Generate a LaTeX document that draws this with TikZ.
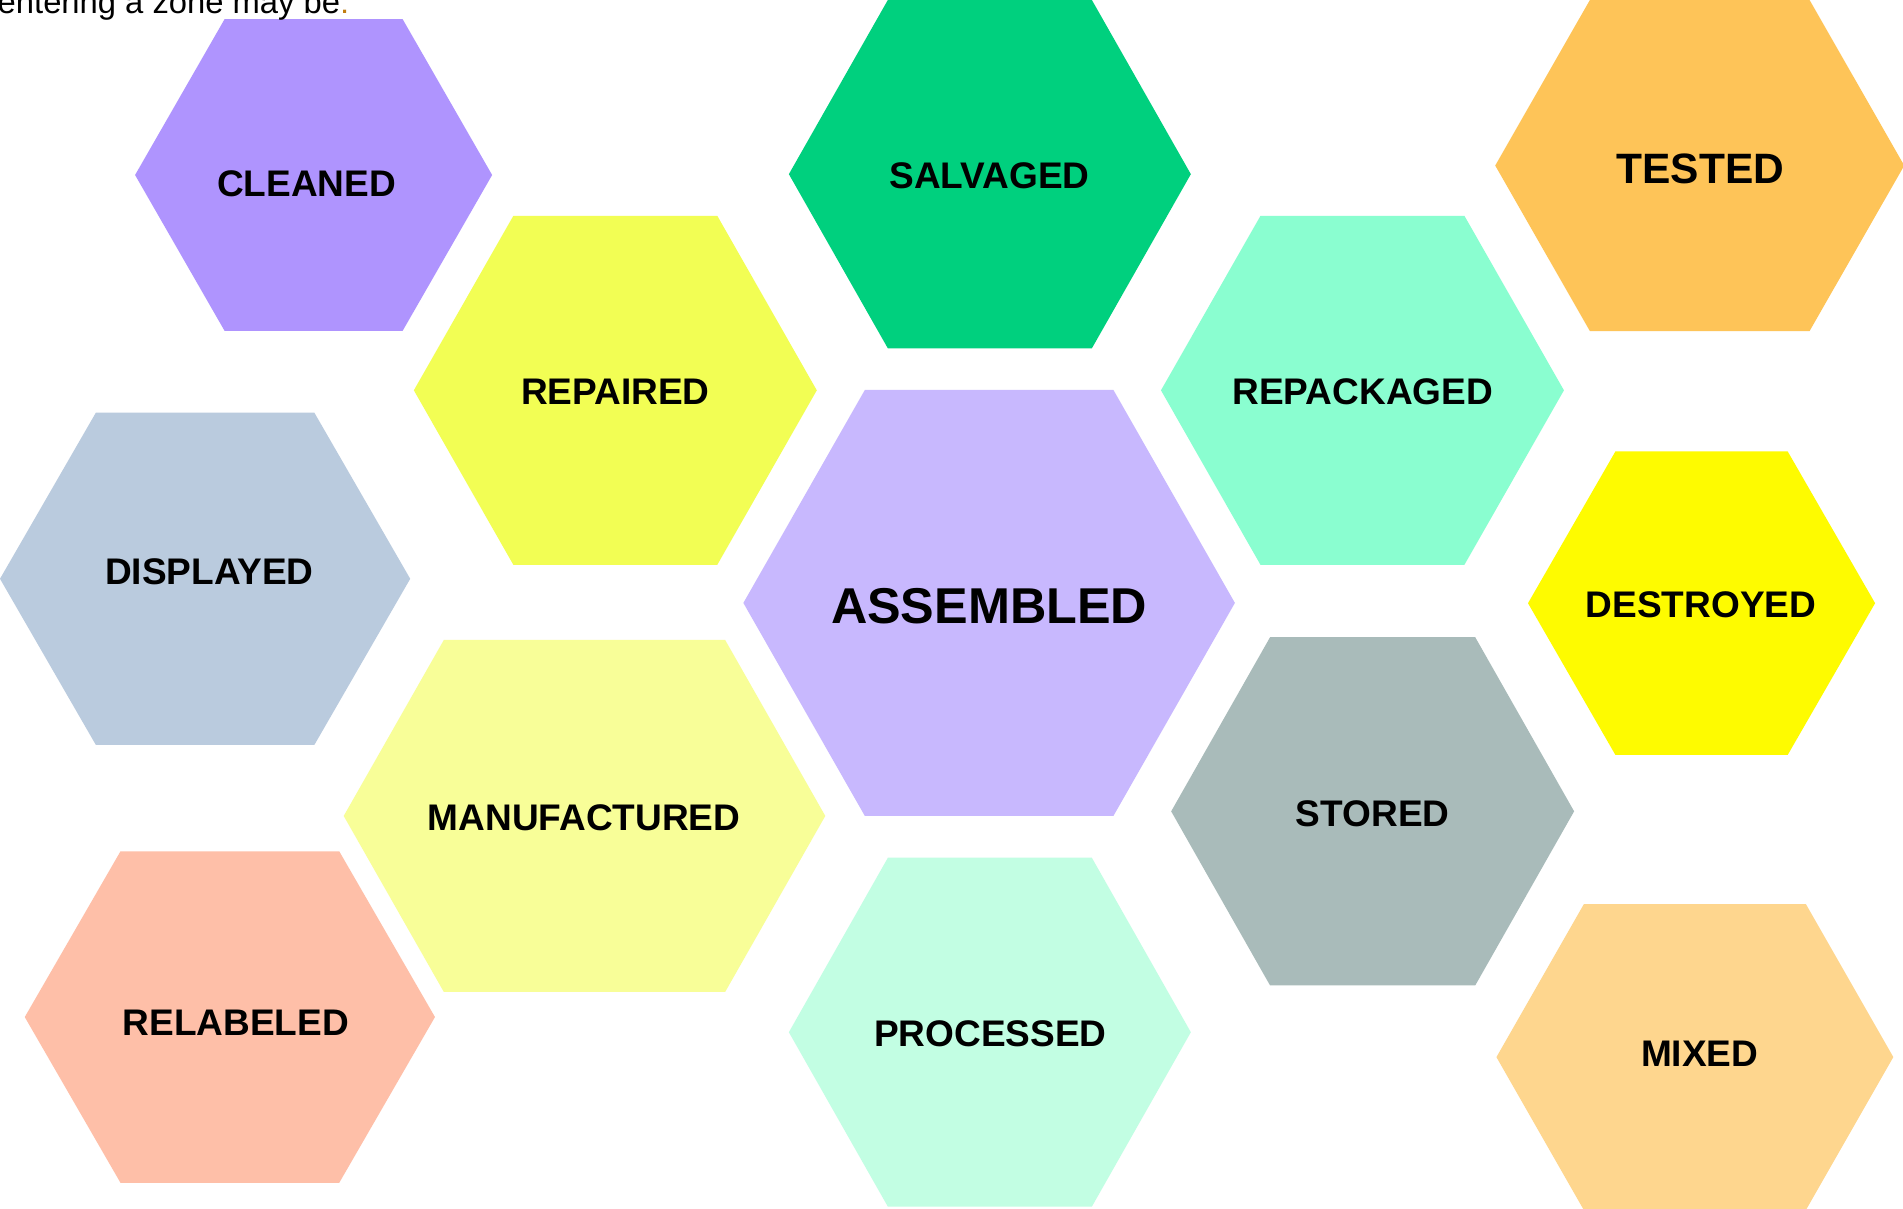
\documentclass[tikz,border=0pt]{standalone}
\usepackage{fontspec}
\setmainfont{Liberation Sans}
\definecolor{cCleaned}{RGB}{175,148,254}
\definecolor{cSalvaged}{RGB}{0,208,126}
\definecolor{cTested}{RGB}{254,196,88}
\definecolor{cRepaired}{RGB}{242,254,84}
\definecolor{cRepackaged}{RGB}{138,254,208}
\definecolor{cDisplayed}{RGB}{186,203,222}
\definecolor{cAssembled}{RGB}{200,184,254}
\definecolor{cDestroyed}{RGB}{254,251,0}
\definecolor{cManufactured}{RGB}{248,254,152}
\definecolor{cStored}{RGB}{169,187,186}
\definecolor{cRelabeled}{RGB}{254,191,168}
\definecolor{cProcessed}{RGB}{194,254,227}
\definecolor{cMixed}{RGB}{254,214,142}
\definecolor{cColon}{RGB}{193,125,17}
% cx cy halfwidth halftop halfheight colour
\newcommand\hexcell[6]{%
  \fill[#6] ({#1-#3},{#2}) -- ({#1-#4},{#2-#5}) -- ({#1+#4},{#2-#5})
    -- ({#1+#3},{#2}) -- ({#1+#4},{#2+#5}) -- ({#1-#4},{#2+#5}) -- cycle;}
\begin{document}
\begin{tikzpicture}[x=1pt,y=-1pt,
  lbl/.style={anchor=base,inner sep=0pt,text=black,font=\bfseries\fontsize{30.5}{30.5}\selectfont}]
\clip (0,0) rectangle (1568,995.4);
\fill[white] (0,0) rectangle (1568,995.4);
\hexcell{258.4}{144.2}{147.1}{73.3}{128.5}{cCleaned}
\hexcell{815.6}{143.5}{165.6}{84}{143.6}{cSalvaged}
\hexcell{1400.5}{136.4}{168.5}{90.5}{136.4}{cTested}
\hexcell{507}{321.6}{166}{84}{143.8}{cRepaired}
\hexcell{1122.6}{321.6}{166}{84}{143.8}{cRepackaged}
\hexcell{169}{476.9}{169}{90}{136.9}{cDisplayed}
\hexcell{815}{496.8}{202.5}{102.4}{175.5}{cAssembled}
\hexcell{1402}{497}{143}{71}{125}{cDestroyed}
\hexcell{481.6}{672.3}{198.4}{115.9}{145}{cManufactured}
\hexcell{1131}{668.5}{166}{84.5}{143.5}{cStored}
\hexcell{189.4}{838}{169}{90.1}{136.6}{cRelabeled}
\hexcell{815.6}{850.5}{165.6}{84}{143.8}{cProcessed}
\hexcell{1396.5}{871}{163.5}{91.5}{126}{cMixed}
\node[lbl] (cleaned) at (252.7,161.5) {CLEANED};
\node[lbl] (salvaged) at (815.4,155.5) {SALVAGED};
\node[lbl,font=\bfseries\fontsize{35}{35}\selectfont] (tested) at (1401,151) {TESTED};
\node[lbl] (repaired) at (507,333) {REPAIRED};
\node[lbl] (repackaged) at (1122.9,333.3) {REPACKAGED};
\node[lbl] (displayed) at (172.5,482) {DISPLAYED};
\node[lbl,font=\bfseries\fontsize{41.5}{41.5}\selectfont] (assembled) at (815,514) {ASSEMBLED};
\node[lbl] (destroyed) at (1401.5,509) {DESTROYED};
\node[lbl] (manufactured) at (481.3,684.1) {MANUFACTURED};
\node[lbl] (stored) at (1131,681) {STORED};
\node[lbl] (relabeled) at (194.4,852.8) {RELABELED};
\node[lbl] (processed) at (816,862.4) {PROCESSED};
\node[lbl] (mixed) at (1400.5,879) {MIXED};
\node[anchor=base east,inner sep=0pt,font=\fontsize{27}{27}\selectfont] (intro) at (288,11) {entering a zone may be\textcolor{cColon}{:}};
\end{tikzpicture}
\end{document}
